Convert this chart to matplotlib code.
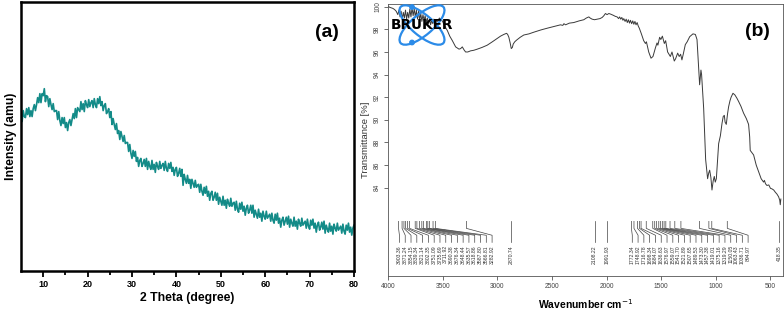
import numpy as np
import matplotlib
matplotlib.use("Agg")
import matplotlib.pyplot as plt
from matplotlib.patches import Ellipse, Circle

plt.rcParams["font.family"] = ["Liberation Sans", "DejaVu Sans"]

C_XRD = "#138b88"
C_IR = "#3a3a3a"
C_LOGO = "#2b8be8"

# ---------------------------------------------------------------- data (a)
two_theta = np.arange(5, 80.01, 0.25)
intensity = [
    156, 150, 161, 155, 154, 163, 157, 164, 155, 161, 155, 163, 167, 161, 167, 174,
    169, 178, 169, 178, 176, 183, 170, 176, 175, 165, 173, 167, 162, 168, 160, 161,
    161, 152, 160, 151, 146, 154, 148, 154, 144, 149, 141, 149, 152, 146, 152, 158,
    153, 163, 154, 164, 162, 160, 170, 162, 168, 160, 171, 167, 164, 172, 165, 169,
    171, 164, 173, 167, 164, 173, 168, 175, 166, 170, 161, 166, 168, 158, 160, 163,
    154, 160, 147, 153, 147, 142, 148, 138, 141, 132, 140, 135, 130, 136, 128, 129,
    129, 120, 127, 118, 113, 121, 115, 120, 110, 114, 105, 111, 113, 105, 108, 112,
    105, 113, 102, 110, 105, 102, 111, 102, 107, 99, 109, 105, 102, 110, 103, 106,
    108, 101, 110, 103, 100, 108, 103, 109, 100, 104, 96, 102, 104, 95, 98, 103,
    95, 102, 86, 97, 92, 88, 96, 88, 92, 83, 92, 88, 84, 91, 84, 86,
    87, 79, 87, 80, 76, 84, 78, 85, 75, 80, 71, 78, 80, 71, 74, 79,
    71, 78, 67, 74, 70, 66, 75, 66, 71, 63, 72, 68, 65, 73, 65, 68,
    69, 61, 70, 62, 59, 68, 62, 69, 60, 65, 56, 63, 66, 58, 61, 66,
    58, 66, 54, 61, 57, 53, 62, 54, 58, 50, 60, 55, 52, 60, 53, 55,
    57, 50, 58, 51, 48, 57, 51, 58, 48, 53, 44, 51, 54, 46, 50, 54,
    47, 55, 44, 52, 48, 45, 54, 45, 50, 42, 52, 48, 45, 53, 46, 48,
    50, 43, 52, 45, 42, 51, 46, 52, 43, 48, 39, 46, 49, 41, 44, 49,
    42, 50, 38, 46, 42, 39, 48, 40, 45, 37, 47, 43, 40, 48, 41, 43,
    45, 38, 47, 40, 37, 46, 41, 48, 39, 44, 36, 43, 46,
]
xrd_ticks = [10, 20, 30, 40, 50, 60, 70, 80]

# ---------------------------------------------------------------- data (b)
wavenumber = [
    4000, 3985, 3970, 3955, 3940, 3925, 3910, 3900, 3890, 3880, 3870, 3860,
    3850, 3840, 3830, 3820, 3810, 3800, 3790, 3780, 3770, 3760, 3750, 3740,
    3730, 3720, 3710, 3700, 3690, 3680, 3670, 3660, 3650, 3640, 3630, 3620,
    3610, 3600, 3590, 3580, 3570, 3560, 3545, 3530, 3518, 3500, 3487, 3470,
    3457, 3435, 3411, 3395, 3381, 3365, 3350, 3335, 3320, 3305, 3290, 3270,
    3244, 3215, 3183, 3140, 3092, 3045, 3000, 2970, 2940, 2915, 2905, 2894,
    2882, 2872, 2862, 2854, 2840, 2823, 2790, 2757, 2710, 2665, 2600, 2543,
    2480, 2421, 2400, 2390, 2375, 2340, 2300, 2250, 2208, 2185, 2162, 2150,
    2132, 2110, 2086, 2060, 2040, 2025, 2010, 1995, 1979, 1964, 1940, 1920,
    1903, 1890, 1880, 1870, 1860, 1850, 1842, 1830, 1820, 1810, 1800, 1790,
    1781, 1770, 1760, 1750, 1740, 1730, 1720, 1710, 1700, 1681, 1660, 1644,
    1635, 1614, 1593, 1575, 1553, 1538, 1530, 1514, 1503, 1489, 1471, 1459,
    1441, 1416, 1401, 1380, 1368, 1349, 1335, 1322, 1310, 1298, 1279, 1262,
    1239, 1209, 1187, 1172, 1157, 1148, 1136, 1130, 1111, 1093, 1075, 1065,
    1056, 1045, 1035, 1024, 1014, 1005, 995, 985, 974, 958, 943, 932,
    922, 915, 904, 893, 883, 870, 860, 843, 825, 806, 790, 770,
    746, 720, 700, 690, 685, 670, 654, 630, 608, 585, 570, 563,
    555, 545, 532, 515, 500, 486, 470, 455, 441, 425, 415, 410,
    405,
]
transmittance = [
    100.05, 99.95, 99.9, 99.85, 99.75, 99.6, 99.3, 99.7, 99.1, 99.6, 98.9, 99.5,
    99.0, 99.7, 98.9, 99.5, 99.0, 99.8, 99.1, 99.9, 99.2, 99.8, 99.1, 99.7,
    98.9, 99.6, 98.8, 99.4, 98.7, 99.3, 98.8, 99.2, 98.6, 99.0, 98.5, 98.9,
    98.4, 98.8, 98.5, 98.9, 98.4, 98.8, 98.7, 99.0, 98.9, 98.7, 98.4, 98.1,
    97.9, 97.4, 97.0, 96.7, 96.45, 96.35, 96.25, 96.3, 96.45, 96.2, 96.0, 96.0,
    96.1, 96.15, 96.25, 96.4, 96.6, 96.9, 97.2, 97.4, 97.55, 97.65, 97.55, 97.3,
    96.8, 96.3, 96.4, 96.7, 96.9, 97.05, 97.3, 97.5, 97.6, 97.75, 97.95, 98.1,
    98.25, 98.4, 98.35, 98.5, 98.4, 98.55, 98.6, 98.75, 98.85, 99.0, 99.1, 99.0,
    98.9, 98.85, 98.9, 98.95, 99.05, 99.2, 99.4, 99.3, 99.4, 99.35, 99.25, 99.15,
    99.1, 98.95, 99.1, 98.9, 99.05, 98.8, 98.95, 98.7, 98.9, 98.6, 98.85, 98.55,
    98.8, 98.5, 98.75, 98.45, 98.7, 98.4, 98.6, 98.3, 98.1, 97.6, 97.0, 96.75,
    96.9, 96.0, 95.45, 95.6, 96.35, 96.8, 96.6, 97.3, 97.1, 97.4, 96.75, 97.0,
    96.0, 95.6, 96.0, 95.2, 95.4, 95.9, 95.6, 95.8, 95.3, 95.8, 96.65, 96.9,
    97.35, 97.6, 97.55, 97.1, 94.7, 93.1, 94.4, 94.0, 91.0, 86.5, 84.8, 85.3,
    85.55, 84.9, 83.8, 84.6, 85.0, 84.5, 84.8, 86.3, 87.9, 88.6, 89.7, 90.3,
    90.4, 89.8, 89.6, 90.5, 91.15, 91.7, 92.0, 92.35, 92.2, 91.9, 91.6, 91.2,
    90.6, 90.1, 89.6, 88.5, 87.3, 87.1, 86.9, 86.0, 85.4, 84.8, 84.6, 84.5,
    84.65, 84.35, 84.2, 84.25, 83.95, 83.9, 83.8, 83.6, 83.45, 83.2, 82.9, 82.5,
    83.0,
]
peaks_high = [3903.36, 3871.24, 3854.15, 3839.34, 3821.14, 3802.35, 3751.09,
              3735.69, 3711.92, 3690.38, 3676.34, 3648.44, 3635.57, 3618.86,
              3587.80, 3566.81, 3282.92]
peaks_single = [2870.74, 2108.22, 1991.93, 418.35]
peaks_fp = [1772.34, 1748.92, 1716.78, 1698.34, 1684.07, 1636.63, 1576.97,
            1559.07, 1541.70, 1521.89, 1507.65, 1489.53, 1473.30, 1457.38,
            1419.01, 1375.16, 1319.29, 1150.05, 1063.43, 1036.71, 894.97]
ir_xticks = [4000, 3500, 3000, 2500, 2000, 1500, 1000, 500]
ir_yticks = [84, 86, 88, 90, 92, 94, 96, 98, 100]

W, H = 784, 312
fig = plt.figure(figsize=(W / 100, H / 100), dpi=100)


def px_box(l, t, r, b):
    return [l / W, 1 - b / H, (r - l) / W, (b - t) / H]


# ===================================================================== (a)
axA = fig.add_axes(px_box(21, 2, 354, 271))
axA.plot(two_theta, intensity, color=C_XRD, lw=1.2)
axA.set_xlim(5, 80)
axA.set_ylim(0, 270)
axA.set_xticks(xrd_ticks)
axA.set_xticks(np.arange(15, 80, 10), minor=True)
axA.set_yticks([])
for s in axA.spines.values():
    s.set_linewidth(1.8)
axA.tick_params(axis="x", which="both", direction="out", width=1.3, pad=2.5,
                labelsize=6.5)
axA.tick_params(axis="x", which="major", length=4)
axA.tick_params(axis="x", which="minor", length=3)
for lab in axA.get_xticklabels():
    lab.set_fontweight("bold")
axA.set_xlabel("2 Theta (degree)", fontsize=8.8, fontweight="bold", labelpad=2)
axA.set_ylabel("Intensity (amu)", fontsize=8.8, fontweight="bold", labelpad=3)
axA.text(0.92, 0.885, "(a)", transform=axA.transAxes, fontsize=14,
         fontweight="bold", ha="center", va="center")

# ===================================================================== (b)
axB = fig.add_axes(px_box(388, 4, 783, 276))
axB.plot(wavenumber, transmittance, color=C_IR, lw=0.7)
axB.set_xlim(4000, 385)
axB.set_ylim(76.2, 100.24)
axB.set_xticks(ir_xticks)
axB.set_yticks(ir_yticks)
for s in axB.spines.values():
    s.set_linewidth(0.6)
    s.set_color("#555555")
axB.tick_params(axis="both", length=3, width=0.6, color="#555555",
                labelsize=4.8, labelcolor="#444444", pad=2)
axB.tick_params(axis="y", labelrotation=90)
for lab in axB.get_yticklabels():
    lab.set_va("center")
axB.set_xlabel("Wavenumber cm$^{-1}$", fontsize=7.5, fontweight="bold",
               labelpad=5)
axB.set_ylabel("Transmittance [%]", fontsize=6.8, color="#333333", labelpad=3)
axB.text(0.935, 0.9, "(b)", transform=axB.transAxes, fontsize=14,
         fontweight="bold", ha="center", va="center")

# peak pick annotations
y_top, y_k1, y_k2, y_bot, y_txt = 81.03, 80.41, 79.80, 79.17, 78.95
step = 53.0


def peak_marks(peaks, spread):
    for k, p in enumerate(peaks):
        lx = peaks[0] - 8 - k * step if spread else p
        axB.plot([p, p, lx, lx], [y_top, y_k1, y_k2, y_bot],
                 color="#444444", lw=0.5)
        axB.text(lx, y_txt, f"{p:.2f}", rotation=90, ha="center", va="top",
                 fontsize=3.7, color="#333333")


peak_marks(peaks_high, True)
peak_marks(peaks_fp, True)
peak_marks(peaks_single, False)

# ===================================================================== logo
ov = fig.add_axes([0, 0, 1, 1])
ov.set_xlim(0, W)
ov.set_ylim(H, 0)
ov.axis("off")
for ang in (40, -40):
    ov.add_patch(Ellipse((422, 25), 56, 21, angle=ang, fill=False,
                         ec=C_LOGO, lw=1.6))
ov.add_patch(Circle((412, 7), 2.2, color=C_LOGO))
ov.add_patch(Circle((412, 42.5), 2.2, color=C_LOGO))
ov.text(422, 25, "BRUKER", family="DejaVu Sans", fontsize=9.8,
        fontweight="bold", ha="center", va="center", color="black")

fig.savefig("out.png", dpi=100)
